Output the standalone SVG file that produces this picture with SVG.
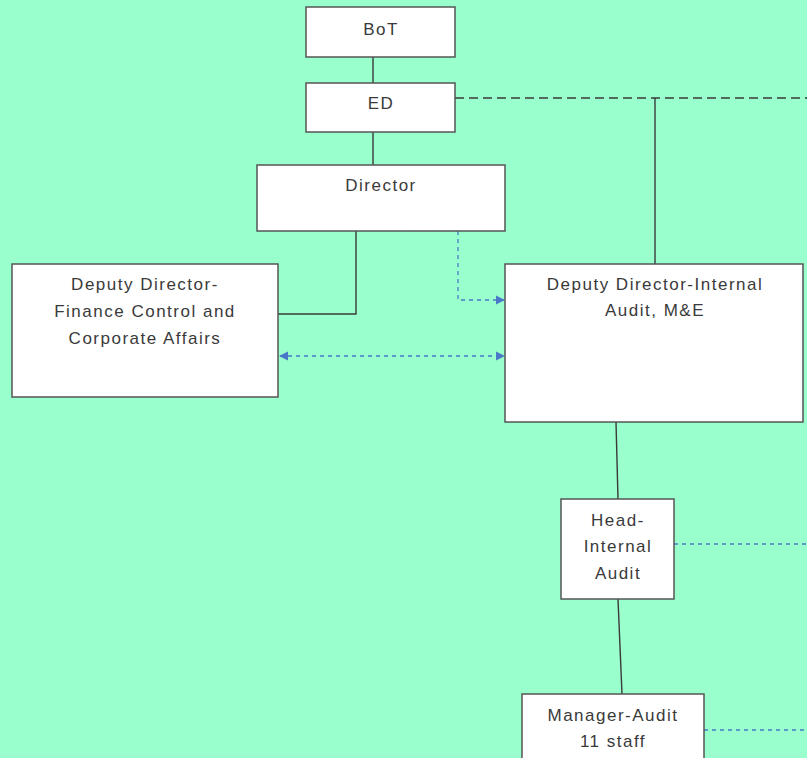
<svg xmlns="http://www.w3.org/2000/svg" width="807" height="758" viewBox="0 0 807 758">
<defs>
<style>
.box{fill:#ffffff;stroke:#555555;stroke-width:1.5}
.t{font-family:"Liberation Sans",Arial,sans-serif;font-size:17px;letter-spacing:1.5px;fill:#3a3a3a;text-anchor:middle}
.solid{fill:none;stroke:#3a3a3a;stroke-width:1.4}
.dash{fill:none;stroke:#3a3a3a;stroke-width:1.5;stroke-dasharray:9 5}
.blue{fill:none;stroke:#4a78c8;stroke-width:1.3;stroke-dasharray:4 4}
</style>
<marker id="ah" viewBox="0 0 10 10" refX="9" refY="5" markerWidth="7" markerHeight="7" orient="auto-start-reverse">
<path d="M0,0 L10,5 L0,10 z" fill="#4a78c8"/>
</marker>
</defs>
<rect width="807" height="758" fill="#99ffcc"/>
<g id="connectors">
<line class="solid" x1="373" y1="57" x2="373" y2="83"/>
<line class="solid" x1="373" y1="132" x2="373" y2="165"/>
<polyline class="solid" points="356,231 356,314 278,314"/>
<line class="dash" x1="455" y1="98" x2="807" y2="98"/>
<line class="solid" x1="655" y1="98" x2="655" y2="264"/>
<line class="solid" x1="616" y1="422" x2="618" y2="499"/>
<line class="solid" x1="618" y1="599" x2="622" y2="694"/>
<line stroke="#aee0f0" stroke-width="1.5" stroke-dasharray="3 2" x1="410" y1="231" x2="458" y2="231"/>
<polyline class="blue" points="458,231 458,300 504,300" marker-end="url(#ah)"/>
<line class="blue" x1="280" y1="356" x2="504" y2="356" marker-start="url(#ah)" marker-end="url(#ah)"/>
<line class="blue" x1="674" y1="544" x2="807" y2="544"/>
<line class="blue" x1="704" y1="730" x2="807" y2="730"/>
</g>
<g id="bot">
<rect class="box" x="306" y="7" width="149" height="50"/>
<text class="t" x="381" y="35">BoT</text>
</g>
<g id="ed">
<rect class="box" x="306" y="83" width="149" height="49"/>
<text class="t" x="381" y="109">ED</text>
</g>
<g id="director">
<rect class="box" x="257" y="165" width="248" height="66"/>
<text class="t" x="381" y="191">Director</text>
</g>
<g id="dd-finance">
<rect class="box" x="12" y="264" width="266" height="133"/>
<text class="t" x="145" y="290">Deputy Director-</text>
<text class="t" x="145" y="317">Finance Control and</text>
<text class="t" x="145" y="344">Corporate Affairs</text>
</g>
<g id="dd-internal">
<rect class="box" x="505" y="264" width="298" height="158"/>
<text class="t" x="655" y="290">Deputy Director-Internal</text>
<text class="t" x="655" y="316">Audit, M&amp;E</text>
</g>
<g id="head-ia">
<rect class="box" x="561" y="499" width="113" height="100"/>
<text class="t" x="618" y="526">Head-</text>
<text class="t" x="618" y="552">Internal</text>
<text class="t" x="618" y="579">Audit</text>
</g>
<g id="manager">
<rect class="box" x="522" y="694" width="182" height="80"/>
<text class="t" x="613" y="721">Manager-Audit</text>
<text class="t" x="613" y="747">11 staff</text>
</g>
</svg>
